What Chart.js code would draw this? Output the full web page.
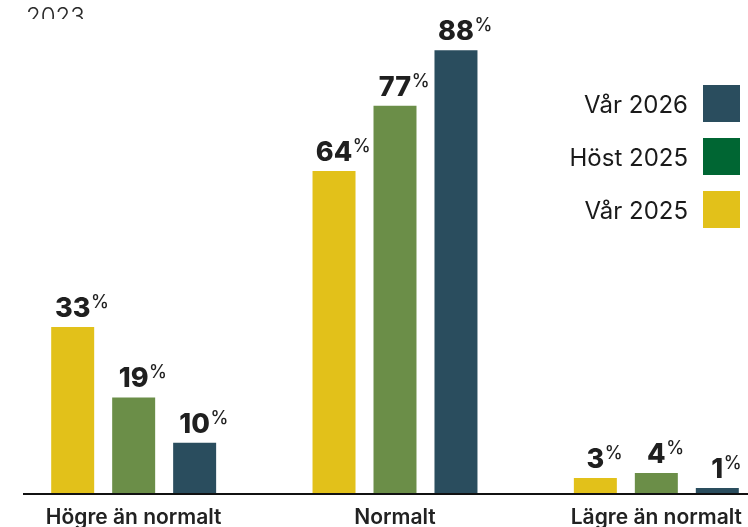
<!DOCTYPE html>
<html>
<head>
<meta charset="utf-8">
<script src="https://cdn.jsdelivr.net/npm/chart.js@4.4.1/dist/chart.umd.min.js"></script>
<style>
  html, body { margin: 0; padding: 0; background: #fff; width: 748px; height: 527px; overflow: hidden; }
  #wrap { position: absolute; left: 0; top: 0; width: 790px; height: 527px; }
  #cut { position: absolute; left: 26px; top: 0; width: 80px; height: 19px; overflow: hidden; }
  #cut span { position: absolute; left: 0; top: 5px; font: 300 24px Inter, sans-serif; color: #2a2a2a; line-height: 1; white-space: nowrap; }
</style>
</head>
<body>
<div id="wrap"><canvas id="c" width="790" height="527"></canvas></div>
<div id="cut"><span>2023</span></div>
<script>
const categories = ["Högre än normalt", "Normalt", "Lägre än normalt"];
const seriesNames = ["Vår 2025", "Höst 2025", "Vår 2026"];
const var2025 = [33, 64, 3];
const host2025 = [19, 77, 4];
const var2026 = [10, 88, 1];
const barColors = ["#e2c11a", "#6b8e48", "#2a4d5e"];
const legendColors = ["#e2c11a", "#006633", "#2a4d5e"];
const valueSuffix = "%";

const labelPlugin = {
  id: 'valueLabels',
  afterDatasetsDraw(chart) {
    const ctx = chart.ctx;
    ctx.save();
    chart.data.datasets.forEach((ds, di) => {
      const meta = chart.getDatasetMeta(di);
      meta.data.forEach((bar, i) => {
        const txt = String(ds.data[i]);
        ctx.font = '800 27px Inter, sans-serif';
        ctx.fillStyle = '#1f1f1f';
        ctx.textAlign = 'center';
        ctx.textBaseline = 'alphabetic';
        const w = ctx.measureText(txt).width;
        ctx.fillText(txt, bar.x, bar.y - 10);
        ctx.font = '500 18px Inter, sans-serif';
        ctx.textAlign = 'left';
        ctx.fillText(valueSuffix, bar.x + w / 2 + 0.5, bar.y - 19);
      });
    });
    // axis line
    const a = chart.chartArea;
    ctx.strokeStyle = '#111';
    ctx.lineWidth = 2;
    ctx.beginPath();
    ctx.moveTo(23, a.bottom + 1);
    ctx.lineTo(chart.width, a.bottom + 1);
    ctx.stroke();
    // legend (reversed order)
    const order = [2, 1, 0];
    order.forEach((di, k) => {
      const top = 85 + k * 53;
      ctx.fillStyle = legendColors[di];
      ctx.fillRect(703, top, 37, 37);
      ctx.font = '400 24px Inter, sans-serif';
      ctx.fillStyle = '#1a1a1a';
      ctx.textAlign = 'right';
      ctx.textBaseline = 'alphabetic';
      ctx.fillText(seriesNames[di], 688, top + 28);
    });
    ctx.restore();
  }
};

const dataSets = [var2025, host2025, var2026].map((d, i) => ({
  label: seriesNames[i],
  data: d,
  backgroundColor: barColors[i],
  borderWidth: 0,
  categoryPercentage: 0.7,
  barPercentage: 0.705
}));

new Chart(document.getElementById('c'), {
  type: 'bar',
  data: { labels: categories, datasets: dataSets },
  plugins: [labelPlugin],
  options: {
    responsive: false,
    animation: false,
    layout: { padding: { left: 3, right: 3, top: 0, bottom: 0 } },
    plugins: { legend: { display: false }, tooltip: { enabled: false } },
    scales: {
      x: {
        grid: { display: false, drawTicks: false },
        border: { display: false },
        ticks: { color: '#222', font: { family: 'Inter, sans-serif', size: 21, weight: '600' }, padding: 12, maxRotation: 0 },
        afterFit(s) { s.height = 34; }
      },
      y: { display: false, min: 0, max: 98 }
    }
  }
});
</script>
</body>
</html>
